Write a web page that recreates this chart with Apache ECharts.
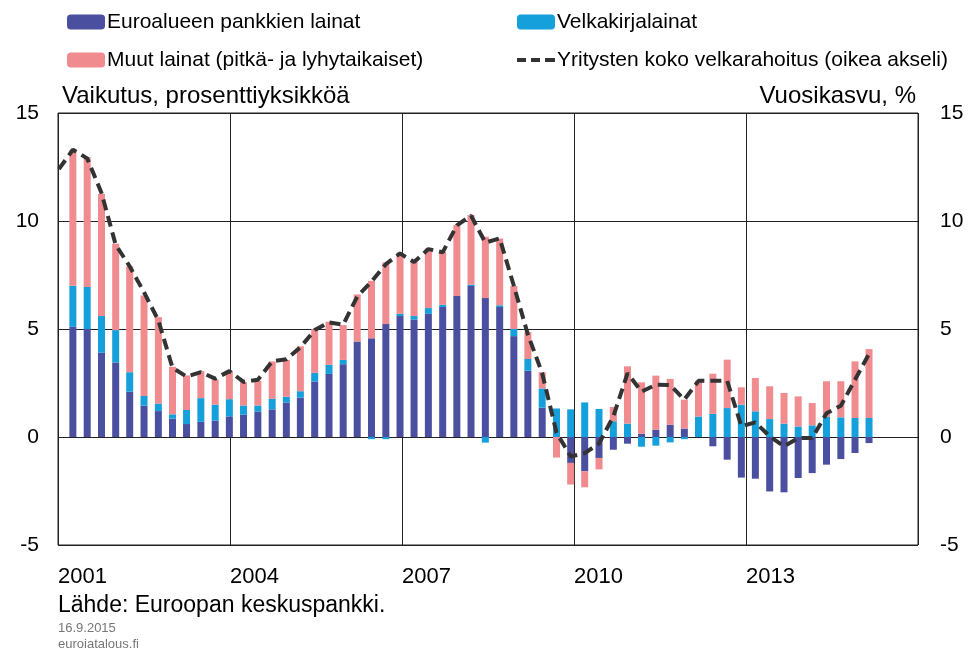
<!DOCTYPE html>
<html>
<head>
<meta charset="utf-8">
<script src="https://cdn.jsdelivr.net/npm/echarts@6/dist/echarts.min.js"></script>
<style>
html, body { margin: 0; padding: 0; background: #fff; }
#main { width: 968px; height: 651px; }
</style>
</head>
<body>
<div id="main"></div>
<script>
// neljännekset 2001Q1 - 2015Q1
var quarters = [];
for (var yy = 2001; yy <= 2015; yy++) {
    for (var qq = 1; qq <= 4; qq++) quarters.push(yy + 'Q' + qq);
}
quarters = quarters.slice(0, 57);

var pankkilainat = [5.1, 5.0, 3.9, 3.45, 2.1, 1.45, 1.2, 0.85, 0.6, 0.7, 0.75, 0.95,
    1.03, 1.18, 1.28, 1.6, 1.82, 2.57, 2.92, 3.37, 4.42, 4.57, 5.23, 5.6,
    5.44, 5.7, 6.02, 6.53, 6.99, 6.43, 6.02, 4.67, 3.07, 1.36, 0, -1.2,
    -1.59, -0.97, -0.59, -0.31, 0.15, 0.34, 0.57, 0.39, 0, -0.43, -1.05, -1.88,
    -1.93, -2.52, -2.56, -1.9, -1.67, -1.28, -1.02, -0.74, -0.28];

var velkakirjat = [1.9, 1.95, 1.7, 1.5, 0.9, 0.45, 0.35, 0.2, 0.65, 1.1, 0.75, 0.8,
    0.43, 0.28, 0.49, 0.26, 0.3, 0.4, 0.42, 0.2, 0, -0.1, -0.1, 0.1,
    0.16, 0.27, 0.1, 0, 0.06, -0.26, 0.08, 0.33, 0.54, 0.89, 1.32, 1.28,
    1.6, 1.3, 0.73, 0.62, -0.45, -0.4, -0.25, -0.1, 0.95, 1.07, 1.34, 1.5,
    1.19, 0.83, 0.62, 0.49, 0.54, 0.93, 0.91, 0.88, 0.88];

var muutLainat = [6.3, 6.0, 5.65, 4.0, 4.9, 4.65, 4.0, 2.2, 1.6, 1.25, 1.15, 1.3,
    1.08, 1.14, 1.73, 1.71, 2.08, 2.03, 2.0, 1.61, 2.18, 2.66, 2.85, 2.83,
    2.54, 2.76, 2.45, 3.28, 3.23, 2.84, 3.09, 1.99, 1.24, 0.75, -0.95, -1.0,
    -0.74, -0.53, 0.66, 2.65, 2.38, 2.5, 2.12, 1.34, 1.65, 1.86, 2.24, 0.8,
    1.54, 1.52, 1.42, 1.39, 1.03, 1.65, 1.67, 2.62, 3.19];

// oikea akseli, alkaa 2000Q4
var lineQuarters = ['2000Q4'].concat(quarters);
var kokoRahoitus = [12.4, 13.3, 12.9, 11.3, 8.9, 7.9, 6.7, 5.4, 3.2, 2.8, 3.0, 2.7, 3.05,
    2.55, 2.65, 3.5, 3.6, 4.15, 4.95, 5.3, 5.2, 6.5, 7.2, 8.0, 8.5,
    8.1, 8.7, 8.55, 9.8, 10.25, 9.0, 9.2, 7.0, 4.75, 2.95, 0.2, -0.9,
    -0.75, -0.3, 0.95, 2.95, 2.1, 2.42, 2.4, 1.73, 2.6, 2.6, 2.6, 0.5,
    0.68, 0.03, -0.43, -0.05, -0.05, 1.1, 1.45, 2.65, 3.85];

var xYears = [2001, 2004, 2007, 2010, 2013];
var yTicks = [-5, 0, 5, 10, 15];

// neljänneksen viimeisen kuukauden puoliväli
function qToDate(s) {
    var q = parseInt(s.slice(5)) * 3;
    return s.slice(0, 4) + '-' + (q < 10 ? '0' + q : q) + '-15';
}
function pairs(qs, vals) {
    return qs.map(function (q, i) { return [qToDate(q), vals[i]]; });
}

var font = '"Liberation Sans", Arial, sans-serif';
var gridColor = '#222';
var chart = echarts.init(document.getElementById('main'));

var legendBase = {
    orient: 'vertical', top: 6,
    itemWidth: 38, itemHeight: 15, itemGap: 16,
    textStyle: { fontSize: 21, lineHeight: 22, color: '#000', fontFamily: font, padding: [0, 0, 0, -3] }
};

var option = {
    animation: false,
    textStyle: { fontFamily: font, color: '#000' },
    grid: { left: 58, right: 50, top: 113, bottom: 106, show: true, borderColor: gridColor, borderWidth: 1 },
    legend: [
        Object.assign({}, legendBase, {
            left: 62,
            data: ['Euroalueen pankkien lainat', 'Muut lainat (pitkä- ja lyhytaikaiset)']
        }),
        Object.assign({}, legendBase, {
            left: 512,
            data: ['Velkakirjalainat', {
                name: 'Yritysten koko velkarahoitus (oikea akseli)',
                icon: 'path://M0,0h9v4h-9z M14,0h9v4h-9z M28,0h10v4h-10z'
            }]
        })
    ],
    xAxis: [{
        type: 'time', min: '2001-01-01', max: '2016-01-01', show: false
    }, {
        type: 'value', min: 2001, max: 2016, interval: 3, position: 'bottom',
        axisLine: { show: false }, axisTick: { show: false },
        splitLine: { show: true, lineStyle: { color: gridColor, width: 1 } },
        axisLabel: {
            fontSize: 22, color: '#000', align: 'left', margin: 21,
            formatter: function (v) { return xYears.indexOf(v) >= 0 ? String(v) : ''; }
        }
    }],
    yAxis: [{
        type: 'value', min: -5, max: 15, interval: 5, position: 'left',
        name: 'Vaikutus, prosenttiyksikköä', nameLocation: 'end', nameGap: 5,
        nameTextStyle: { fontSize: 24, color: '#000', align: 'left', verticalAlign: 'bottom', padding: [0, 0, 0, 4] },
        axisLine: { show: false }, axisTick: { show: false },
        splitLine: { show: true, lineStyle: { color: gridColor, width: 1 } },
        axisLabel: { fontSize: 21, color: '#000', margin: 19,
            formatter: function (v) { return yTicks.indexOf(v) >= 0 ? String(v) : ''; } }
    }, {
        type: 'value', min: -5, max: 15, interval: 5, position: 'right',
        name: 'Vuosikasvu, %', nameLocation: 'end', nameGap: 5,
        nameTextStyle: { fontSize: 24, color: '#000', align: 'right', verticalAlign: 'bottom', padding: [0, 2, 0, 0] },
        axisLine: { show: false }, axisTick: { show: false }, splitLine: { show: false },
        axisLabel: { fontSize: 21, color: '#000', margin: 22 }
    }],
    series: [{
        name: 'Euroalueen pankkien lainat', type: 'bar', stack: 'a', barWidth: 7,
        itemStyle: { color: '#4b4f9f' }, data: pairs(quarters, pankkilainat)
    }, {
        name: 'Velkakirjalainat', type: 'bar', stack: 'a', barWidth: 7,
        itemStyle: { color: '#15a0dc' }, data: pairs(quarters, velkakirjat)
    }, {
        name: 'Muut lainat (pitkä- ja lyhytaikaiset)', type: 'bar', stack: 'a', barWidth: 7,
        itemStyle: { color: '#f08b8f' }, data: pairs(quarters, muutLainat)
    }, {
        name: 'Yritysten koko velkarahoitus (oikea akseli)', type: 'line', yAxisIndex: 1,
        symbol: 'none', z: 5, clip: true,
        itemStyle: { color: '#333' },
        lineStyle: { color: '#333', width: 4, type: [11, 6] },
        data: pairs(lineQuarters, kokoRahoitus)
    }],
    graphic: [{
        type: 'text', left: 58, top: 594,
        style: { text: 'Lähde: Euroopan keskuspankki.', font: '23px ' + font, fill: '#000' }
    }, {
        type: 'text', left: 58, top: 622,
        style: { text: '16.9.2015', font: '13px ' + font, fill: '#777' }
    }, {
        type: 'text', left: 58, top: 638,
        style: { text: 'euroiatalous.fi', font: '13px ' + font, fill: '#777' }
    }]
};

chart.setOption(option);
</script>
</body>
</html>
